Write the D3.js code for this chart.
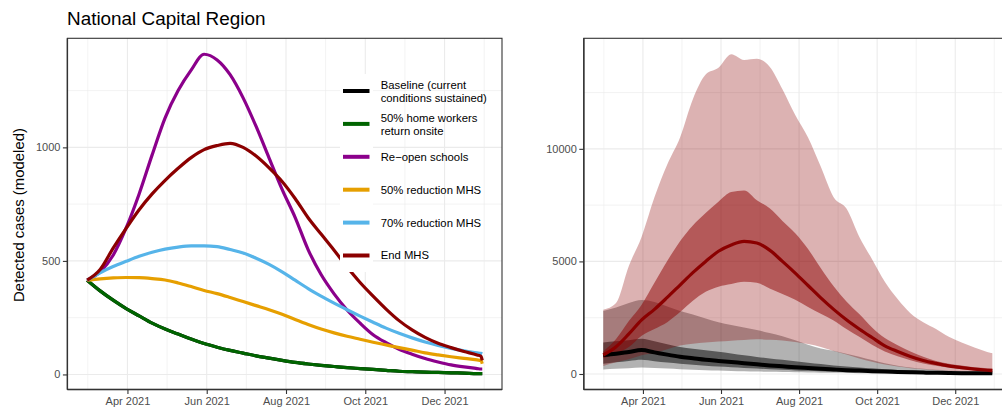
<!DOCTYPE html>
<html>
<head>
<meta charset="utf-8">
<script src="https://cdn.jsdelivr.net/npm/d3@7"></script>
<style>
  html, body { margin: 0; padding: 0; background: #fff; }
  svg { display: block; font-family: "Liberation Sans", Arial, Helvetica, sans-serif; }
</style>
</head>
<body>
<svg id="chart" width="1002" height="414"></svg>
<script>
// ---- data -------------------------------------------------------------
const startDate = "2021-03-01";
// days after the start date at which every series is sampled
const dayOffsets = [0,10,20,30,40,50,60,70,80,90,100,110,120,130,140,150,160,170,180,190,
                    200,210,220,230,240,250,260,270,280,290,300,303,304];

const scenarioNames = ["Baseline (current\nconditions sustained)", "50% home workers\nreturn onsite",
                       "Re\u2212open schools", "50% reduction MHS", "70% reduction MHS", "End MHS"];
const scenarioColors = ["#000000", "#006400", "#8B008B", "#E69F00", "#56B4E9", "#8B0000"];

// left panel: detected cases per scenario
const baseline = [415,368,327,290,258,226,200,178,156,136,120,106,94,82,72,62,53,46,40,35,
                  30,26,22,18,14,12,10,9,7,6,4,4,4];
const homeWorkersOnsite = [415,368,327,290,258,226,200,178,156,136,120,106,94,82,72,62,53,46,40,35,
                           30,26,22,18,14,12,10,9,7,6,4,4,4];
const reopenSchools = [415,452,525,645,795,967,1130,1250,1340,1410,1385,1320,1218,1092,953,815,692,550,440,355,
                       284,226,175,140,111,89,70,55,42,33,26,24,24];
const reduceMHS50 = [415,421,425,427,426,422,416,403,387,370,356,339,321,303,285,265,242,220,200,183,
                     168,155,142,130,118,107,95,86,78,71,64,62,47];
const reduceMHS70 = [415,448,475,498,520,538,552,561,566,566,563,550,535,512,485,452,415,378,345,314,
                     285,257,230,204,181,161,143,128,115,104,95,93,91];
const endMHS = [415,462,556,643,725,795,855,908,955,990,1008,1018,1000,962,910,850,775,690,618,547,
                473,405,345,288,237,196,163,137,118,101,86,80,62];

// right panel: median with 50% and 95% intervals
const baseMedian = [840,900,980,1060,960,860,770,700,630,580,530,480,430,380,340,300,265,230,200,170,
                    150,125,105,90,75,62,52,44,38,33,30,29,28];
const baseLo50 = [450,520,580,630,570,510,460,410,370,330,300,270,240,210,185,160,140,120,105,90,
                  78,68,58,50,44,38,34,30,27,25,23,22,22];
const baseHi50 = [1400,1450,1500,1560,1450,1320,1200,1120,1050,990,910,830,760,690,630,570,500,440,380,330,
                  290,250,210,180,150,125,105,90,75,65,55,52,50];
const baseLo95 = [200,230,260,290,270,240,210,190,170,150,135,120,105,95,85,75,65,57,50,44,
                  38,33,29,26,24,22,21,20,20,20,20,20,20];
const baseHi95 = [2800,2950,3150,3290,3200,3000,2800,2640,2460,2300,2180,2060,1950,1820,1680,1500,1300,1130,1030,900,
                  770,620,480,370,290,230,190,160,130,110,90,80,75];

const endMedian = [844,1210,1780,2400,2870,3400,3950,4500,5000,5450,5730,5890,5820,5500,5000,4480,3930,3380,2870,2410,
                   2000,1620,1250,1000,780,600,470,360,280,215,165,152,148];
const endLo50 = [700,900,1200,1700,2000,2300,2750,3250,3650,3880,4000,4100,4050,3800,3550,3300,2980,2680,2380,2000,
                 1650,1300,1000,790,615,470,365,280,215,165,125,115,110];
const endHi50 = [1000,1550,2350,3080,4050,5020,5900,6600,7150,7650,8080,8150,7720,7360,6800,6250,5550,4700,3900,3220,
                 2660,2070,1600,1280,1000,770,580,460,380,300,260,252,250];
const endLo95 = [350,520,650,830,930,1100,1260,1340,1400,1440,1480,1510,1540,1520,1490,1420,1330,1200,1020,860,
                 690,540,420,330,260,210,170,140,115,95,80,75,72];
const endHi95 = [2850,3150,4800,6100,7850,9300,10500,12200,13300,13600,14200,13950,14000,13650,12650,11500,10500,9200,7850,7350,
                 6100,5100,4100,3330,2700,2300,2000,1650,1400,1180,980,930,920];

const xTickDates = ["2021-04-01","2021-06-01","2021-08-01","2021-10-01","2021-12-01"];
const leftYTicks = [0, 500, 1000];
const rightYTicks = [0, 5000, 10000];

const titleText = "National Capital Region";
const yTitleText = "Detected cases (modeled)";

// ---- helpers ----------------------------------------------------------
const parse = d3.timeParse("%Y-%m-%d");
const t0 = parse(startDate);
const dates = dayOffsets.map(d => d3.timeDay.offset(t0, d));
const tickDates = xTickDates.map(parse);
const fmt = d3.timeFormat("%b %Y");
const curve = d3.curveMonotoneX;

function expand([lo, hi]) { const p = (hi - lo) * 0.05; return [lo - p, hi + p]; }

const xExt = d3.extent(dates).map(Number);
const xDomain = expand(xExt).map(v => new Date(v));

// minor breaks sit halfway between major breaks (including one step beyond each end)
function minorDates(majors) {
  const step = majors[1] - majors[0];
  const all = [new Date(+majors[0] - step), ...majors, new Date(+majors[majors.length - 1] + step)];
  const mids = [];
  for (let i = 0; i < all.length - 1; i++) mids.push(new Date((+all[i] + +all[i + 1]) / 2));
  return mids;
}
function minorValues(majors) {
  const step = majors[1] - majors[0];
  const all = [majors[0] - step, ...majors, majors[majors.length - 1] + step];
  const mids = [];
  for (let i = 0; i < all.length - 1; i++) mids.push((all[i] + all[i + 1]) / 2);
  return mids;
}

const svg = d3.select("#chart");
const panelTop = 38.3, panelBottom = 389.5;
const ink = "#333333";

function drawPanel(left, right, yDomain, yTicks) {
  const x = d3.scaleTime().domain(xDomain).range([left, right]);
  const y = d3.scaleLinear().domain(yDomain).range([panelBottom, panelTop]);
  const g = svg.append("g");

  g.append("rect").attr("x", left).attr("y", panelTop).attr("width", right - left)
    .attr("height", panelBottom - panelTop).attr("fill", "#fff");

  const grid = g.append("g");
  const yMinor = minorValues(yTicks).filter(v => v > yDomain[0] && v < yDomain[1]);
  const xMinor = minorDates(tickDates).filter(d => d > xDomain[0] && d < xDomain[1]);
  grid.selectAll(".ymin").data(yMinor).join("line")
    .attr("x1", left).attr("x2", right).attr("y1", d => y(d)).attr("y2", d => y(d))
    .attr("stroke", "#ebebeb").attr("stroke-width", 0.6);
  grid.selectAll(".xmin").data(xMinor).join("line")
    .attr("x1", d => x(d)).attr("x2", d => x(d)).attr("y1", panelTop).attr("y2", panelBottom)
    .attr("stroke", "#ebebeb").attr("stroke-width", 0.6);
  grid.selectAll(".ymaj").data(yTicks).join("line")
    .attr("x1", left).attr("x2", right).attr("y1", d => y(d)).attr("y2", d => y(d))
    .attr("stroke", "#ebebeb").attr("stroke-width", 1.1);
  grid.selectAll(".xmaj").data(tickDates).join("line")
    .attr("x1", d => x(d)).attr("x2", d => x(d)).attr("y1", panelTop).attr("y2", panelBottom)
    .attr("stroke", "#ebebeb").attr("stroke-width", 1.1);

  const marks = g.append("g");

  // axes
  const yAxis = g.append("g").attr("transform", `translate(${left},0)`)
    .call(d3.axisLeft(y).tickValues(yTicks).tickSize(4.5).tickPadding(2.5).tickFormat(d3.format("d")));
  const xAxis = g.append("g").attr("transform", `translate(0,${panelBottom})`)
    .call(d3.axisBottom(x).tickValues(tickDates).tickSize(4.5).tickPadding(3.5).tickFormat(fmt));
  [yAxis, xAxis].forEach(a => {
    a.select(".domain").remove();
    a.selectAll(".tick line").attr("stroke", ink).attr("stroke-width", 1.1);
    a.selectAll(".tick text").attr("fill", "#4d4d4d").style("font-size", "11px")
      .style("font-family", '"Liberation Sans", Arial, Helvetica, sans-serif');
  });

  const border = g.append("g");
  border.append("rect").attr("x", left).attr("y", panelTop).attr("width", right - left)
    .attr("height", panelBottom - panelTop)
    .attr("fill", "none").attr("stroke", ink).attr("stroke-width", 1.1);
  border.append("line").attr("x1", left).attr("x2", left).attr("y1", panelTop).attr("y2", panelBottom)
    .attr("stroke", ink).attr("stroke-width", 1.4);
  border.append("line").attr("x1", left).attr("x2", right).attr("y1", panelBottom).attr("y2", panelBottom)
    .attr("stroke", ink).attr("stroke-width", 1.4);

  return { x, y, marks };
}

// ---- left panel: scenario medians ------------------------------------
const scenarios = [baseline, homeWorkersOnsite, reopenSchools, reduceMHS50, reduceMHS70, endMHS];
const leftDomain = expand([d3.min(scenarios.flat()), d3.max(scenarios.flat())]);
const L = drawPanel(67.4, 502, leftDomain, leftYTicks);

scenarios.forEach((vals, i) => {
  const line = d3.line().curve(curve).x((d, j) => L.x(dates[j])).y(d => L.y(d));
  L.marks.append("path").datum(vals).attr("d", line)
    .attr("fill", "none").attr("stroke", scenarioColors[i]).attr("stroke-width", 3.2)
    .attr("stroke-linejoin", "round").attr("stroke-linecap", "butt");
});

// legend inside the left panel
const legend = svg.append("g");
const keyLeft = 340, keyRight = 373, keyTop = 74, keyBottom = 272;
legend.append("rect").attr("x", keyLeft).attr("y", keyTop)
  .attr("width", keyRight - keyLeft).attr("height", keyBottom - keyTop).attr("fill", "#fff");
scenarioNames.forEach((name, i) => {
  const cy = 91 + i * 32.9;
  legend.append("line").attr("x1", 343).attr("x2", 369.5).attr("y1", cy).attr("y2", cy)
    .attr("stroke", scenarioColors[i]).attr("stroke-width", 4);
  const lines = name.split("\n");
  const t = legend.append("text").attr("x", 380.7).attr("fill", "#000").style("font-size", "11.3px");
  lines.forEach((ln, k) => {
    const off = lines.length === 1 ? 0 : (k === 0 ? -6.3 : 6.7);
    t.append("tspan").attr("x", 380.7).attr("y", cy + off).attr("dy", "0.35em").text(ln);
  });
});

// ---- right panel: uncertainty bands ----------------------------------
const rightVals = [baseLo95, baseHi95, endLo95, endHi95, baseMedian, endMedian];
const rightDomain = expand([d3.min(rightVals.flat()), d3.max(rightVals.flat())]);
const R = drawPanel(583.8, 1011.8, rightDomain, rightYTicks);

const bands = [
  { lo: baseLo95, hi: baseHi95, color: "#000000", alpha: 0.3 },
  { lo: baseLo50, hi: baseHi50, color: "#000000", alpha: 0.5 },
  { lo: endLo95, hi: endHi95, color: "#8B0000", alpha: 0.3 },
  { lo: endLo50, hi: endHi50, color: "#8B0000", alpha: 0.5 }
];
bands.forEach(b => {
  const area = d3.area().curve(curve).x((d, j) => R.x(dates[j]))
    .y0((d, j) => R.y(b.lo[j])).y1((d, j) => R.y(b.hi[j]));
  R.marks.append("path").datum(b.hi).attr("d", area).attr("fill", b.color).attr("fill-opacity", b.alpha);
});
[[baseMedian, "#000000", 4], [endMedian, "#8B0000", 3.2]].forEach(([vals, color, w]) => {
  const line = d3.line().curve(curve).x((d, j) => R.x(dates[j])).y(d => R.y(d));
  R.marks.append("path").datum(vals).attr("d", line)
    .attr("fill", "none").attr("stroke", color).attr("stroke-width", w).attr("stroke-linejoin", "round");
});

// ---- titles -----------------------------------------------------------
svg.append("text").attr("x", 67).attr("y", 25).attr("fill", "#000").style("font-size", "18.9px").text(titleText);
svg.append("text").attr("transform", "translate(24,215) rotate(-90)").attr("text-anchor", "middle")
  .attr("fill", "#000").style("font-size", "14.9px").text(yTitleText);
</script>
</body>
</html>
